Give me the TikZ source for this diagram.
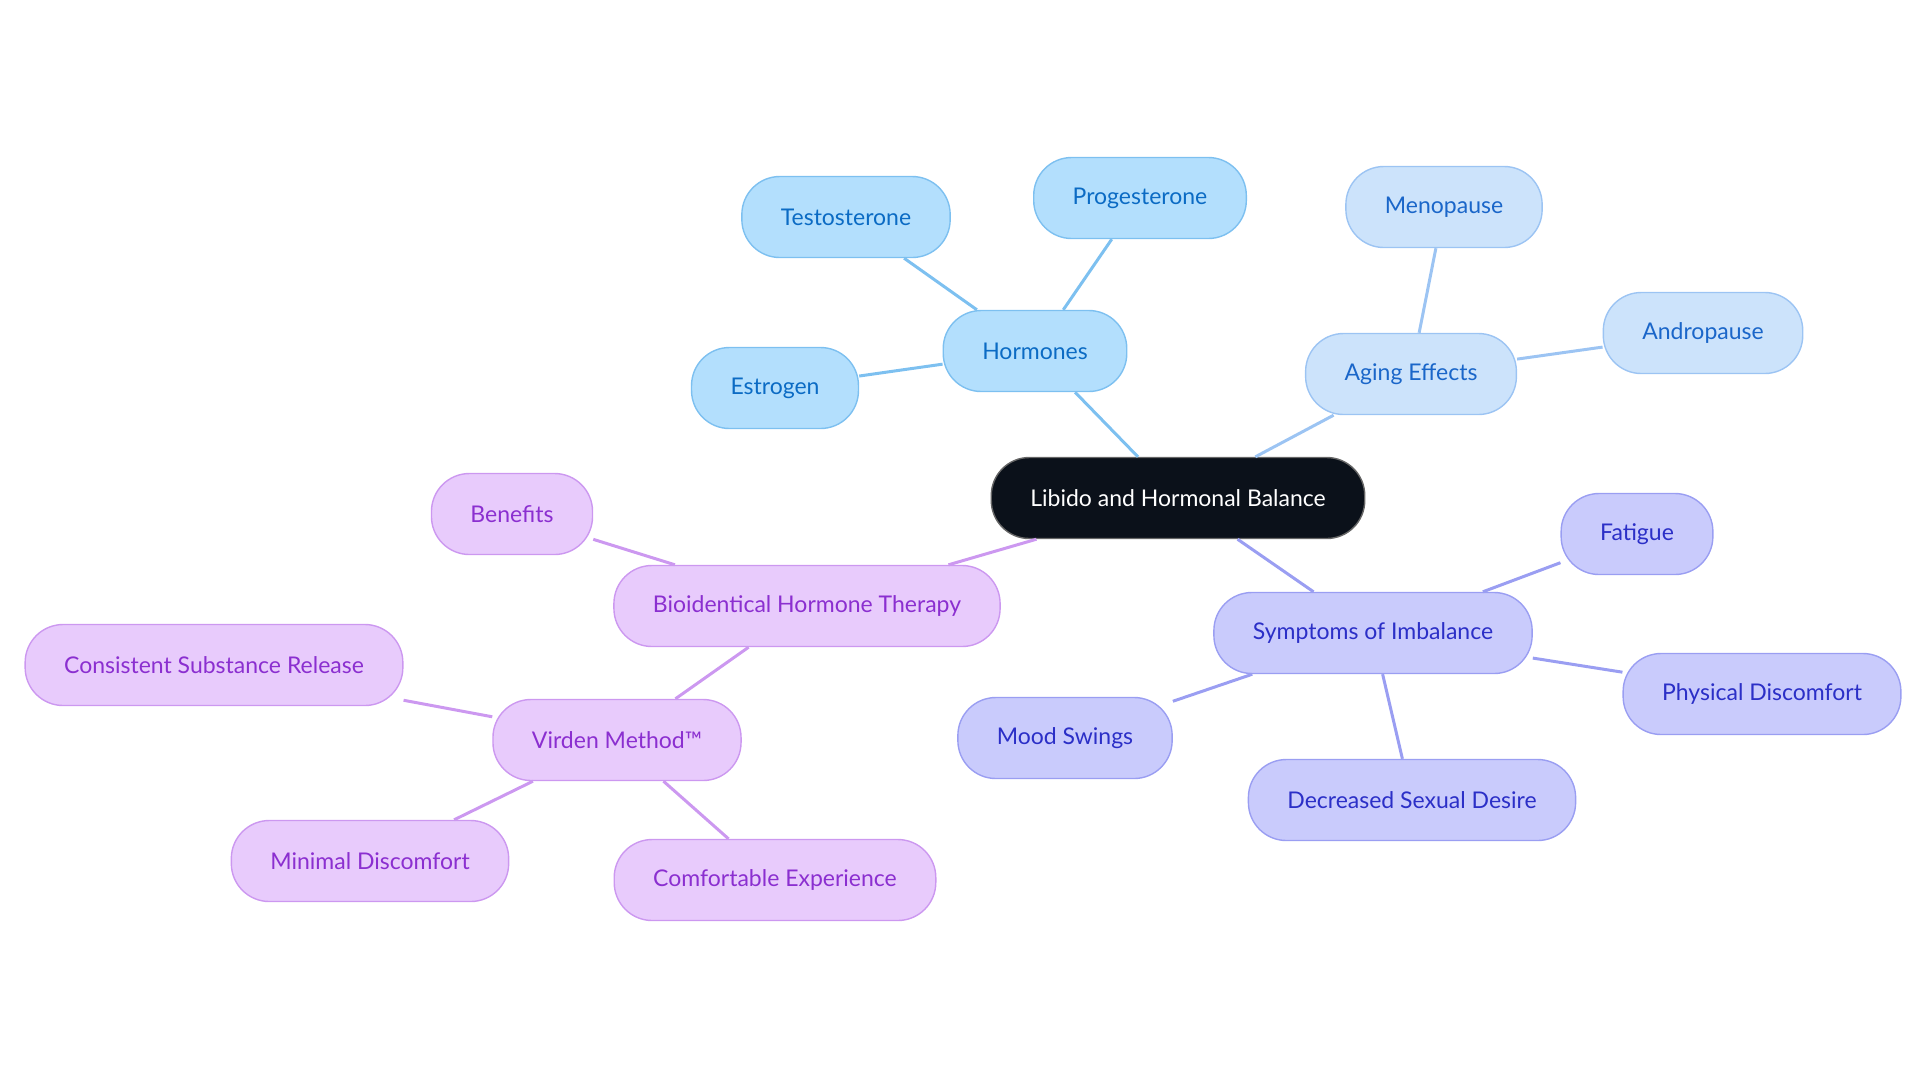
\documentclass[tikz,border=0pt]{standalone}
\usepackage{fontspec}
\setmainfont{Lato}
\usepackage{tikz}

\definecolor{rootfill}{HTML}{0B111A}
\definecolor{hormfill}{HTML}{B3DFFD}
\definecolor{hormline}{HTML}{7DC0F0}
\definecolor{hormtext}{HTML}{0B6BC4}
\definecolor{agefill}{HTML}{CCE3FB}
\definecolor{ageline}{HTML}{9CC4F3}
\definecolor{agetext}{HTML}{1A66C9}
\definecolor{symfill}{HTML}{C9CBFC}
\definecolor{symline}{HTML}{9A9EF2}
\definecolor{symtext}{HTML}{2B2FC7}
\definecolor{therfill}{HTML}{E8CBFC}
\definecolor{therline}{HTML}{CC98F0}
\definecolor{thertext}{HTML}{8B2FD0}

\tikzset{
    pill/.style={rounded corners=19pt, minimum height=40.5pt, inner xsep=19.5pt,
        font=\fontsize{11.5}{14}\selectfont, line width=0.7pt},
    rootnode/.style={pill, fill=rootfill, draw=black!60, text=white},
    hormnode/.style={pill, fill=hormfill, draw=hormline, text=hormtext},
    agenode/.style={pill, fill=agefill, draw=ageline, text=agetext},
    symnode/.style={pill, fill=symfill, draw=symline, text=symtext},
    thernode/.style={pill, fill=therfill, draw=therline, text=thertext},
    link/.style={line width=1.5pt}
}

\begin{document}
\begin{tikzpicture}[x=0.5pt,y=-0.5pt]
        \useasboundingbox (0,0) rectangle (1920,1083);

        % center
        \node[rootnode] (root) at (1178,498) {Libido and Hormonal Balance};

        % hormones
        \node[hormnode] (horm) at (1035,351) {Hormones};
        \node[hormnode] (testo) at (846,217) {Testosterone};
        \node[hormnode] (proges) at (1140,198) {Progesterone};
        \node[hormnode] (estro) at (775,388) {Estrogen};

        % aging
        \node[agenode] (aging) at (1411,374) {Aging Effects};
        \node[agenode] (meno) at (1444,207) {Menopause};
        \node[agenode] (andro) at (1703,333) {Andropause};

        % symptoms
        \node[symnode] (symp) at (1373,633) {Symptoms of Imbalance};
        \node[symnode] (fatig) at (1637,534) {Fatigue};
        \node[symnode] (physd) at (1762,694) {Physical Discomfort};
        \node[symnode] (mood) at (1065,738) {Mood Swings};
        \node[symnode] (desire) at (1412,800) {Decreased Sexual Desire};

        % therapy
        \node[thernode] (bht) at (807,606) {Bioidentical Hormone Therapy};
        \node[thernode] (benef) at (512,514) {Benefits};
        \node[thernode] (virden) at (617,740) {Virden Method™};
        \node[thernode] (subst) at (214,665) {Consistent Substance Release};
        \node[thernode] (mindis) at (370,861) {Minimal Discomfort};
        \node[thernode] (comfy) at (775,880) {Comfortable Experience};

        \draw[link, hormline] (root) -- (horm);
        \draw[link, hormline] (horm) -- (testo);
        \draw[link, hormline] (horm) -- (proges);
        \draw[link, hormline] (horm) -- (estro);

        \draw[link, ageline] (root) -- (aging);
        \draw[link, ageline] (aging) -- (meno);
        \draw[link, ageline] (aging) -- (andro);

        \draw[link, symline] (root) -- (symp);
        \draw[link, symline] (symp) -- (fatig);
        \draw[link, symline] (symp) -- (physd);
        \draw[link, symline] (symp) -- (mood);
        \draw[link, symline] (symp) -- (desire);

        \draw[link, therline] (root) -- (bht);
        \draw[link, therline] (bht) -- (benef);
        \draw[link, therline] (bht) -- (virden);
        \draw[link, therline] (virden) -- (subst);
        \draw[link, therline] (virden) -- (mindis);
        \draw[link, therline] (virden) -- (comfy);
    \end{tikzpicture}
\end{document}
